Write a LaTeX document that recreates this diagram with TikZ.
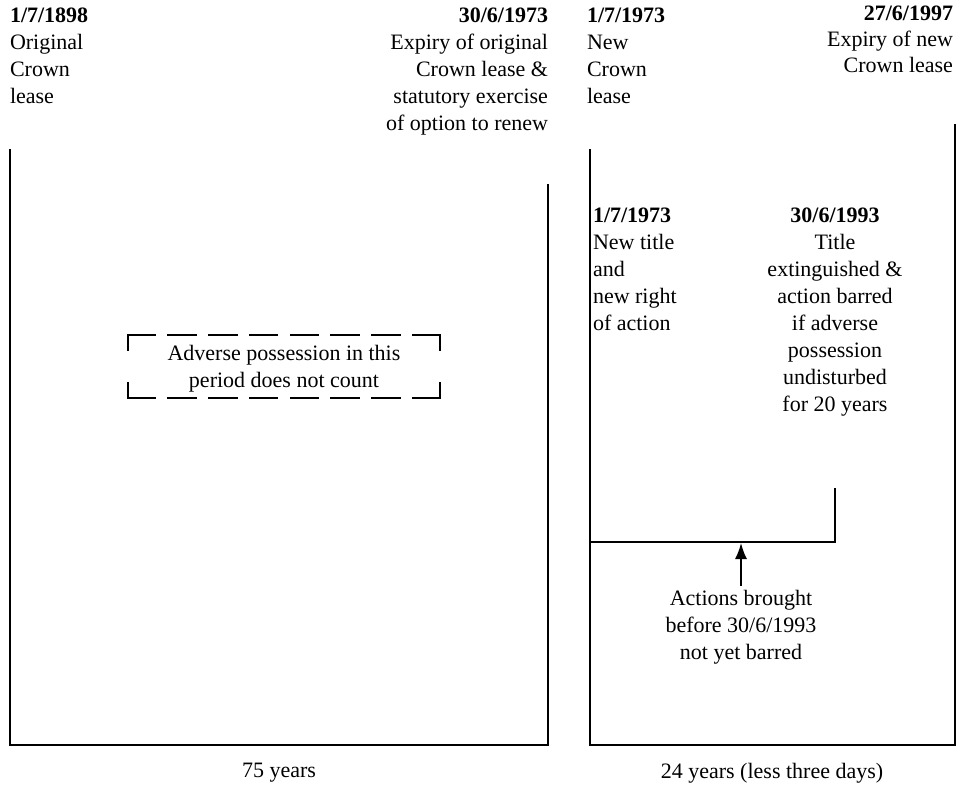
\documentclass[tikz,border=0pt]{standalone}
\usepackage{fontspec}
\setmainfont{Liberation Serif}
\usetikzlibrary{arrows.meta}
\newcommand{\lblfont}{\fontsize{22}{27}\selectfont}
\tikzset{
  lbl/.style={inner sep=0pt, outer sep=0pt, font=\lblfont},
  frame/.style={line width=1.6pt, line cap=rect},
  dashside/.style={line width=2.6pt, line cap=rect},
  uparrow/.style={line width=1.6pt, -{Latex[length=16pt,width=12pt]}}
}
\begin{document}
\begin{tikzpicture}[x=1pt,y=-1pt]
\useasboundingbox (0,0) rectangle (961,786);
% text blocks
\node[lbl, anchor=north west, align=left] (orig) at (10,8) {\textbf{1/7/1898}\\Original\\Crown\\lease};
\node[lbl, anchor=north east, align=right] (expiry) at (548,8) {\textbf{30/6/1973}\\Expiry of original\\Crown lease \&\\statutory exercise\\of option to renew};
\node[lbl, anchor=north west, align=left] (newlease) at (587,8) {\textbf{1/7/1973}\\New\\Crown\\lease};
\node[lbl, anchor=north east, align=right, font=\fontsize{22}{26}\selectfont] (newexp) at (953,6) {\textbf{27/6/1997}\\Expiry of new\\Crown lease};
\node[lbl, anchor=north west, align=left] (newtitle) at (593,208) {\textbf{1/7/1973}\\New title\\and\\new right\\of action};
\node[lbl, anchor=north, align=center] (extinct) at (835,208) {\textbf{30/6/1993}\\Title\\extinguished \&\\action barred\\if adverse\\possession\\undisturbed\\for 20 years};
\node[lbl, align=center] (adverse) at (284,369) {Adverse possession in this\\period does not count};
\node[lbl, anchor=north, align=center] (actions) at (741,590) {Actions brought\\before 30/6/1993\\not yet barred};
\node[lbl] (y75) at (279,773) {75 years};
\node[lbl] (y24) at (772,773) {24 years (less three days)};
% left period frame
\coordinate (la) at (10,150);
\coordinate (lb) at (10,745);
\coordinate (lc) at (548,745);
\coordinate (ld) at (548,185);
\draw[frame] (la) -- (lb) -- (lc) -- (ld);
% right period frame
\coordinate (ra) at (590,150);
\coordinate (rb) at (590,745);
\coordinate (rc) at (955,745);
\coordinate (rd) at (955,125);
\draw[frame] (ra) -- (rb) -- (rc) -- (rd);
% limitation bracket
\coordinate (ba) at (590,542);
\coordinate (bb) at (835,542);
\coordinate (bc) at (835,489);
\coordinate (tip) at (741,543);
\draw[frame] (ba) -- (bb) -- (bc);
\draw[uparrow, shorten <=4pt] (actions.north) -- (tip);
% dashed box
\coordinate (d1) at (128,335);
\coordinate (d2) at (440,335);
\coordinate (d3) at (440,398);
\coordinate (d4) at (128,398);
\draw[dashside, dash pattern=on 27pt off 13.714pt] (d1) -- (d2);
\draw[dashside, dash pattern=on 27pt off 13.714pt] (d4) -- (d3);
\draw[dashside, dash pattern=on 15pt off 33pt] (d1) -- (d4);
\draw[dashside, dash pattern=on 15pt off 33pt] (d2) -- (d3);
\end{tikzpicture}
\end{document}
